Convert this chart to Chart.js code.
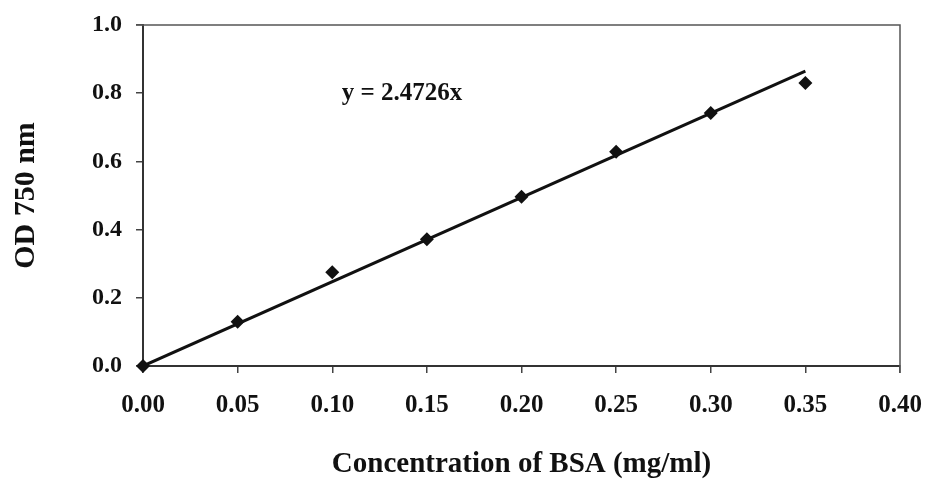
<!DOCTYPE html>
<html>
<head>
<meta charset="utf-8">
<script src="https://cdn.jsdelivr.net/npm/chart.js"></script>
<style>
  html, body { margin: 0; padding: 0; background: #fff; }
  #wrap { width: 928px; height: 495px; position: relative; }
</style>
</head>
<body>
<div id="wrap"><canvas id="myChart"></canvas></div>
<script>
// BSA standard curve
const concentration = [0, 0.05, 0.10, 0.15, 0.20, 0.25, 0.30, 0.35];
const odValues = [0, 0.13, 0.275, 0.372, 0.496, 0.628, 0.742, 0.83];
const trendX = [0, 0.35];
const trendY = [0, 0.865];
const equationLabel = "y = 2.4726x";
const xTitle = "Concentration of BSA (mg/ml)";
const yTitle = "OD 750 nm";

const serif = "'Liberation Serif', 'Times New Roman', serif";

// frame round the plot + equation text
const framePlugin = {
  id: "frame",
  afterDraw(chart) {
    const { ctx, chartArea, scales } = chart;
    ctx.save();
    ctx.strokeStyle = "#555";
    ctx.lineWidth = 1.5;
    ctx.beginPath();
    ctx.moveTo(chartArea.left - 7, chartArea.top);
    ctx.lineTo(chartArea.right, chartArea.top);
    ctx.lineTo(chartArea.right, chartArea.bottom + 7);
    ctx.stroke();

    ctx.fillStyle = "#111";
    ctx.font = "bold 25px " + serif;
    ctx.textAlign = "left";
    ctx.textBaseline = "middle";
    ctx.fillText(equationLabel, scales.x.getPixelForValue(0.105), scales.y.getPixelForValue(0.80));
    ctx.restore();
  }
};

new Chart(document.getElementById("myChart"), {
  type: "scatter",
  data: {
    datasets: [
      {
        label: "Data",
        data: concentration.map((c, i) => ({ x: c, y: odValues[i] })),
        pointStyle: "rectRot",
        radius: 7,
        backgroundColor: "#111",
        borderColor: "#111",
        borderWidth: 0,
        clip: false,
        order: 1,
      },
      {
        label: "Linear",
        type: "line",
        data: trendX.map((c, i) => ({ x: c, y: trendY[i] })),
        borderColor: "#111",
        borderWidth: 3,
        pointRadius: 0,
        fill: false,
        order: 2,
      },
    ],
  },
  options: {
    responsive: true,
    maintainAspectRatio: false,
    animation: false,
    layout: { padding: { top: 25, right: 28, left: 0, bottom: 0 } },
    plugins: {
      legend: { display: false },
      tooltip: { enabled: false },
    },
    scales: {
      x: {
        type: "linear",
        min: 0,
        max: 0.4,
        ticks: {
          stepSize: 0.05,
          color: "#111",
          padding: 18,
          font: { family: serif, size: 25, weight: "bold" },
          callback: (v) => v.toFixed(2),
        },
        grid: { drawOnChartArea: false, drawTicks: true, tickLength: 7, color: "#444", lineWidth: 1.5 },
        border: { display: true, color: "#333", width: 2 },
        title: {
          display: true,
          text: xTitle,
          color: "#111",
          font: { family: serif, size: 29, weight: "bold" },
          padding: { top: 0, bottom: 13 },
        },
        afterFit: (scale) => {
          scale.height = 129;
          scale.paddingLeft = 0;
          scale.paddingRight = 0;
        },
      },
      y: {
        min: 0,
        max: 1.0,
        ticks: {
          stepSize: 0.2,
          color: "#111",
          padding: 14,
          font: { family: serif, size: 24, weight: "bold" },
          callback: (v) => v.toFixed(1),
        },
        grid: { drawOnChartArea: false, drawTicks: true, tickLength: 7, color: "#444", lineWidth: 1.5 },
        border: { display: true, color: "#333", width: 2 },
        title: {
          display: true,
          text: yTitle,
          color: "#111",
          font: { family: serif, size: 30, weight: "bold" },
          padding: { top: 8, bottom: 0 },
        },
        afterFit: (scale) => {
          scale.width = 143;
          scale.paddingTop = 0;
          scale.paddingBottom = 0;
        },
      },
    },
  },
  plugins: [framePlugin],
});
</script>
</body>
</html>
